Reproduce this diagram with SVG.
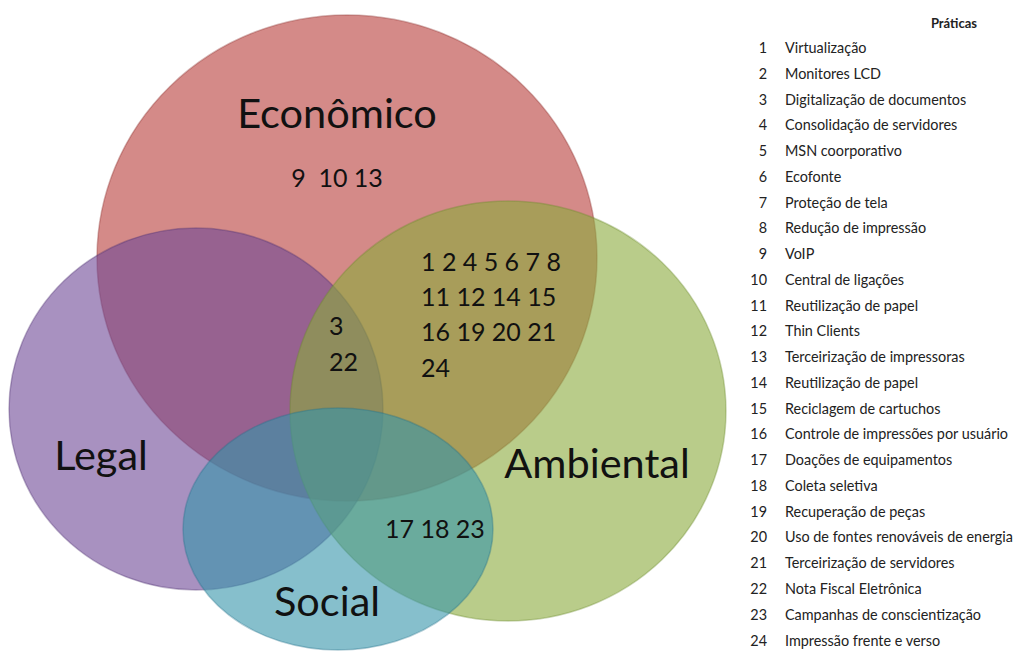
<svg xmlns="http://www.w3.org/2000/svg" width="1024" height="652" viewBox="0 0 1024 652">
  <style>
    .set { fill-opacity: 0.6; stroke-opacity: 0.35; stroke-width: 1.5; }
    .title { font-family: Lato, "Open Sans", "Liberation Sans", sans-serif; font-size: 41.5px; fill: #111; }
    .nums { font-family: Lato, "Open Sans", "Liberation Sans", sans-serif; font-size: 25px; fill: #111; }
    .list { font-family: Lato, "Open Sans", "Liberation Sans", sans-serif; font-size: 14.4px; fill: #222; }
    .head { font-family: Lato, "Open Sans", "Liberation Sans", sans-serif; font-size: 13px; font-weight: bold; fill: #222; }
  </style>
  <rect width="1024" height="652" fill="#ffffff"/>

  <!-- Venn sets -->
  <g id="economico">
    <ellipse class="set" cx="347" cy="258" rx="250" ry="243" fill="#b73c39" stroke="#8a2a28"/>
    <text class="title" x="337" y="128" text-anchor="middle">Econômico</text>
    <text class="nums" x="337" y="187" text-anchor="middle" xml:space="preserve">9  10 13</text>
  </g>
  <g id="legal">
    <ellipse class="set" cx="196" cy="409" rx="187" ry="181" fill="#6e4896" stroke="#4e3070"/>
    <text class="title" x="101" y="470" text-anchor="middle">Legal</text>
  </g>
  <g id="ambiental">
    <ellipse class="set" cx="508" cy="411" rx="218" ry="210" fill="#8aaa3c" stroke="#6a8a2a"/>
    <text class="title" x="597" y="478" text-anchor="middle">Ambiental</text>
  </g>
  <g id="social">
    <ellipse class="set" cx="338" cy="529" rx="155" ry="121" fill="#3594aa" stroke="#22708a"/>
    <text class="title" x="327" y="616" text-anchor="middle">Social</text>
  </g>

  <!-- Practice numbers in the intersections -->
  <g id="econ-amb">
    <text class="nums" x="421" y="271">1 2 4 5 6 7 8</text>
    <text class="nums" x="421" y="306">11 12 14 15</text>
    <text class="nums" x="421" y="341">16 19 20 21</text>
    <text class="nums" x="421" y="377">24</text>
  </g>
  <g id="econ-legal-amb">
    <text class="nums" x="329" y="335">3</text>
    <text class="nums" x="329" y="371">22</text>
  </g>
  <g id="amb-social">
    <text class="nums" x="385" y="538">17 18 23</text>
  </g>

  <!-- Legend of practices -->
  <g id="legenda">
    <text class="head" x="954" y="28" text-anchor="middle">Práticas</text>
    <g class="list">
      <text x="767" y="53" text-anchor="end">1</text><text x="785" y="53">Virtualização</text>
      <text x="767" y="79" text-anchor="end">2</text><text x="785" y="79">Monitores LCD</text>
      <text x="767" y="105" text-anchor="end">3</text><text x="785" y="105">Digitalização de documentos</text>
      <text x="767" y="130" text-anchor="end">4</text><text x="785" y="130">Consolidação de servidores</text>
      <text x="767" y="156" text-anchor="end">5</text><text x="785" y="156">MSN coorporativo</text>
      <text x="767" y="182" text-anchor="end">6</text><text x="785" y="182">Ecofonte</text>
      <text x="767" y="208" text-anchor="end">7</text><text x="785" y="208">Proteção de tela</text>
      <text x="767" y="233" text-anchor="end">8</text><text x="785" y="233">Redução de impressão</text>
      <text x="767" y="259" text-anchor="end">9</text><text x="785" y="259">VoIP</text>
      <text x="767" y="285" text-anchor="end">10</text><text x="785" y="285">Central de ligações</text>
      <text x="767" y="311" text-anchor="end">11</text><text x="785" y="311">Reutilização de papel</text>
      <text x="767" y="336" text-anchor="end">12</text><text x="785" y="336">Thin Clients</text>
      <text x="767" y="362" text-anchor="end">13</text><text x="785" y="362">Terceirização de impressoras</text>
      <text x="767" y="388" text-anchor="end">14</text><text x="785" y="388">Reutilização de papel</text>
      <text x="767" y="414" text-anchor="end">15</text><text x="785" y="414">Reciclagem de cartuchos</text>
      <text x="767" y="439" text-anchor="end">16</text><text x="785" y="439">Controle de impressões por usuário</text>
      <text x="767" y="465" text-anchor="end">17</text><text x="785" y="465">Doações de equipamentos</text>
      <text x="767" y="491" text-anchor="end">18</text><text x="785" y="491">Coleta seletiva</text>
      <text x="767" y="517" text-anchor="end">19</text><text x="785" y="517">Recuperação de peças</text>
      <text x="767" y="542" text-anchor="end">20</text><text x="785" y="542">Uso de fontes renováveis de energia</text>
      <text x="767" y="568" text-anchor="end">21</text><text x="785" y="568">Terceirização de servidores</text>
      <text x="767" y="594" text-anchor="end">22</text><text x="785" y="594">Nota Fiscal Eletrônica</text>
      <text x="767" y="620" text-anchor="end">23</text><text x="785" y="620">Campanhas de conscientização</text>
      <text x="767" y="646" text-anchor="end">24</text><text x="785" y="646">Impressão frente e verso</text>
    </g>
  </g>
</svg>
